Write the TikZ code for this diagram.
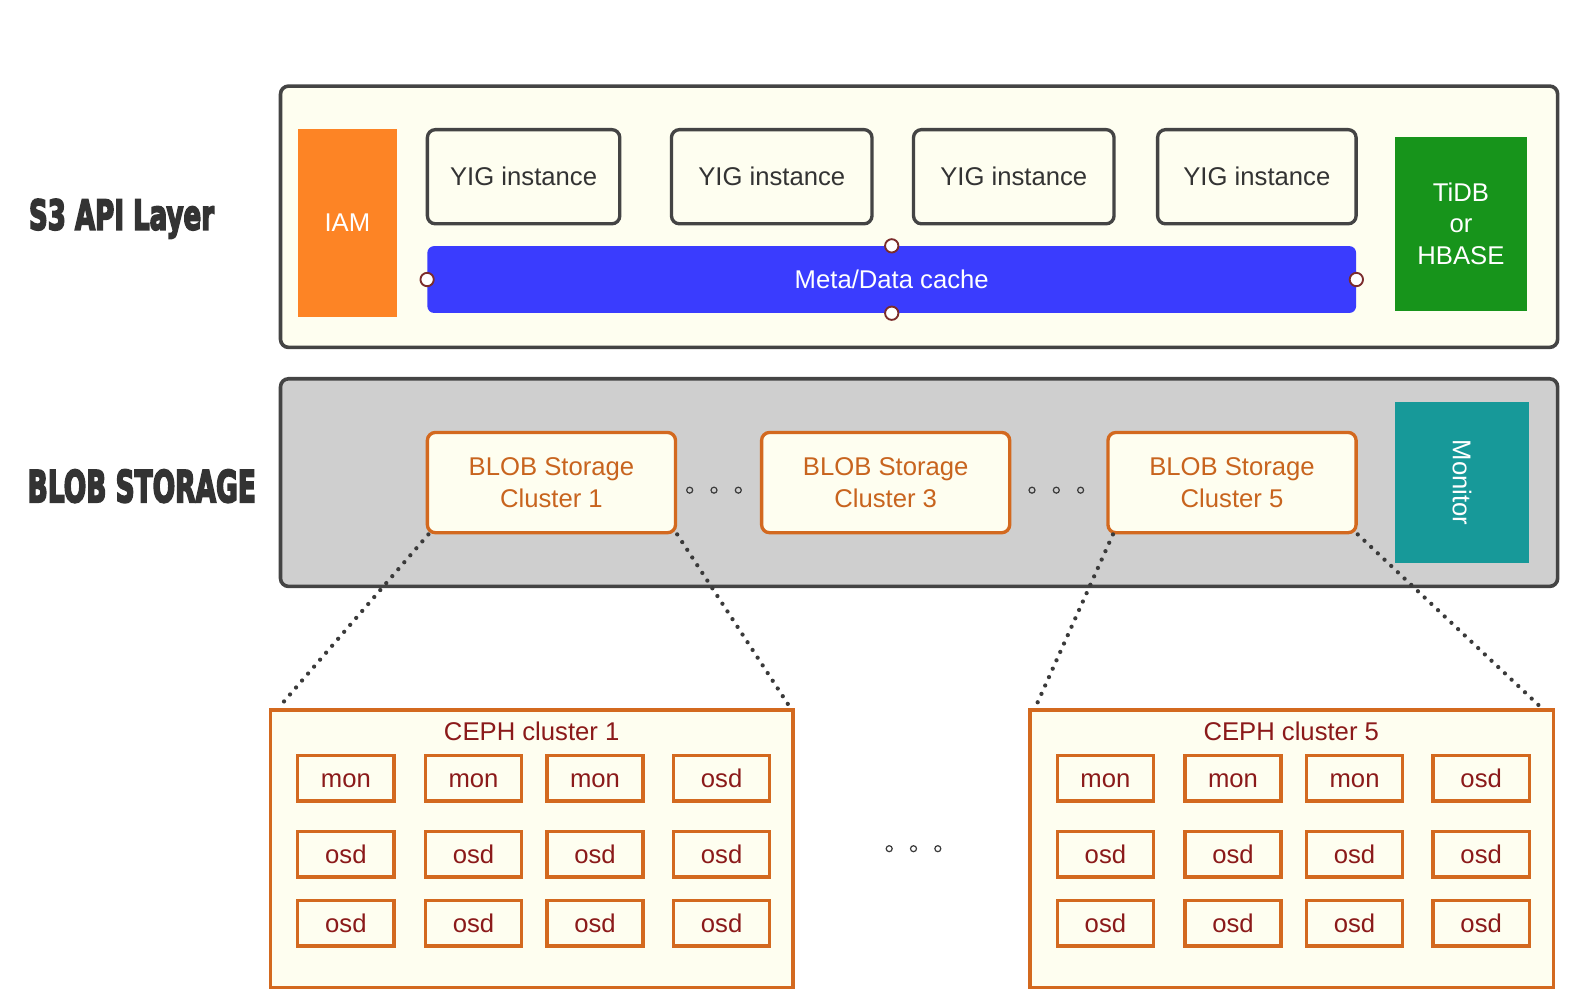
\documentclass[tikz,border=0pt]{standalone}
\usepackage{fontspec}
\setmainfont{Liberation Sans}
\newfontfamily\labelfont[BoldFeatures={FakeBold=5}]{DejaVu Sans}
\usetikzlibrary{fit}
\definecolor{cream}{HTML}{FEFEF0}
\definecolor{panelborder}{HTML}{444444}
\definecolor{panelgray}{HTML}{CFCFCF}
\definecolor{iamorange}{HTML}{FD8425}
\definecolor{cacheblue}{HTML}{3A3CFE}
\definecolor{dbgreen}{HTML}{17941B}
\definecolor{monteal}{HTML}{179999}
\definecolor{borange}{HTML}{D3691F}
\definecolor{torange}{HTML}{C8641E}
\definecolor{cephred}{HTML}{8B1A1A}
\definecolor{textdark}{HTML}{333333}
\definecolor{handlered}{HTML}{7B2C2C}
\definecolor{dotgray}{HTML}{3A3A3A}
\newcommand\diagfont{\fontsize{19.25}{24.3}\selectfont}
\begin{document}
\begin{tikzpicture}[x=0.7596pt,y=-0.7596pt,
  every node/.style={inner sep=0pt, font=\diagfont},
  panel/.style={draw=panelborder, line width=2.7pt, rounded corners=6pt},
  yig/.style={draw=panelborder, line width=2.5pt, fill=cream, rounded corners=6pt},
  solidbox/.style={fill=#1},
  cache/.style={fill=cacheblue, rounded corners=5pt},
  handle/.style={circle, draw=handlered, fill=white, line width=1.4pt, minimum size=10pt},
  ring/.style={circle, draw=dotgray, line width=0.9pt, minimum size=4.5pt},
  blob/.style={draw=borange, line width=2.5pt, fill=cream, rounded corners=6pt},
  ceph/.style={draw=borange, line width=2.5pt, fill=cream},
  cell/.style={draw=borange, line width=2.6pt, fill=cream},
  zoomline/.style={draw=dotgray, line width=3.2pt, line cap=round, dash pattern=on 0pt off 6.9pt},
  layerlabel/.style={text=textdark},
  whitetext/.style={text=white, align=center},
  darktext/.style={text=textdark, text height=13.8pt, text depth=0pt},
  orangetext/.style={text=torange, align=center},
  titletext/.style={text=cephred, text height=13.8pt, text depth=0pt},
  redtext/.style={text=cephred, text height=8pt, text depth=0pt, yshift=-3pt}
]
\useasboundingbox (0,0) rectangle (1568,983.4);

% ---------- S3 API layer ----------
\node[panel, fill=cream, fit={(277,85)(1538,343)}] (apipanel) {};
\node[layerlabel] (s3label) at (120,216) {\resizebox{138.8pt}{22.8pt}{\labelfont\bfseries S3 API Layer}};
\node[solidbox=iamorange, fit={(294,127)(392,313)}] (iam) {};
\node[whitetext] (iamt) at (iam.center) {IAM};
\node[yig, fit={(422,128)(612,221)}] (yig1) {};
\node[yig, fit={(663,128)(861,221)}] (yig2) {};
\node[yig, fit={(902,128)(1100,221)}] (yig3) {};
\node[yig, fit={(1143,128)(1339,221)}] (yig4) {};
\node[darktext] (yig1t) at (yig1.center) {YIG instance};
\node[darktext] (yig2t) at (yig2.center) {YIG instance};
\node[darktext] (yig3t) at (yig3.center) {YIG instance};
\node[darktext] (yig4t) at (yig4.center) {YIG instance};
\node[cache, fit={(422,243)(1339,309)}] (cache) {};
\node[whitetext] (cachet) at (cache.center) {Meta/Data cache};
\node[handle] (hw) at (cache.west) {};
\node[handle] (he) at (cache.east) {};
\node[handle] (hn) at (cache.north) {};
\node[handle] (hs) at (cache.south) {};
\node[solidbox=dbgreen, fit={(1377,135)(1508,307)}] (db) {};
\node[whitetext, font={\fontsize{19.25}{23.9}\selectfont}] (dbtext) at (db.center) {TiDB\\or\\HBASE};

% ---------- BLOB storage ----------
\node[panel, fill=panelgray, fit={(277,374)(1538,579)}] (blobpanel) {};
\node[layerlabel] (bloblabel) at (140,480) {\resizebox{171.2pt}{24.3pt}{\labelfont\bfseries BLOB STORAGE}};
\node[blob, fit={(422,427)(667,526)}] (blob1) {};
\node[blob, fit={(752,427)(997,526)}] (blob3) {};
\node[blob, fit={(1094,427)(1339,526)}] (blob5) {};
\node[orangetext] (blob1t) at (blob1.center) {BLOB Storage\\Cluster 1};
\node[orangetext] (blob3t) at (blob3.center) {BLOB Storage\\Cluster 3};
\node[orangetext] (blob5t) at (blob5.center) {BLOB Storage\\Cluster 5};
\node[ring] (d1) at (681,484) {};
\node[ring] (d2) at (705,484) {};
\node[ring] (d3) at (729,484) {};
\node[ring] (d4) at (1019,484) {};
\node[ring] (d5) at (1043,484) {};
\node[ring] (d6) at (1067,484) {};
\node[solidbox=monteal, fit={(1377,397)(1510,556)}] (mon) {};
\node[whitetext, rotate=-90] (montext) at (mon.center) {Monitor};

% ---------- CEPH clusters ----------
\node[ceph, fit={(267,701)(783,975)}] (ceph1) {};
\node[ceph, fit={(1017,701)(1534,975)}] (ceph5) {};
\node[titletext] (ceph1t) at (525,722) {CEPH cluster 1};
\node[titletext] (ceph5t) at (1275,722) {CEPH cluster 5};
\foreach \off/\k in {0/1,750/5}{
  \foreach \cx [count=\i] in {294,420,540,665}{
    \foreach \ry [count=\j] in {746,821,889}{
      \node[cell, fit={(\cx+\off,\ry)(\cx+\off+95,\ry+45)}] (c\k-\j-\i) {};
      \node[redtext] (t\k-\j-\i) at (c\k-\j-\i.center)
        {\ifnum\j=1 \ifnum\i<4 mon\else osd\fi\else osd\fi};
    }
  }
}
\node[ring] (e1) at (878,838) {};
\node[ring] (e2) at (902,838) {};
\node[ring] (e3) at (926,838) {};

% ---------- zoom connectors ----------
\coordinate (z1) at ([xshift=7pt]ceph1.north west);
\coordinate (z2) at ([xshift=-3pt]ceph1.north east);
\coordinate (z3) at ([xshift=5pt]ceph5.north west);
\coordinate (z4) at ([xshift=-10pt]ceph5.north east);
\draw[zoomline] ([xshift=2pt]blob1.south west) -- (z1);
\draw[zoomline] (blob1.south east) -- (z2);
\draw[zoomline] ([xshift=5pt]blob5.south west) -- (z3);
\draw[zoomline] (blob5.south east) -- (z4);
\end{tikzpicture}
\end{document}
